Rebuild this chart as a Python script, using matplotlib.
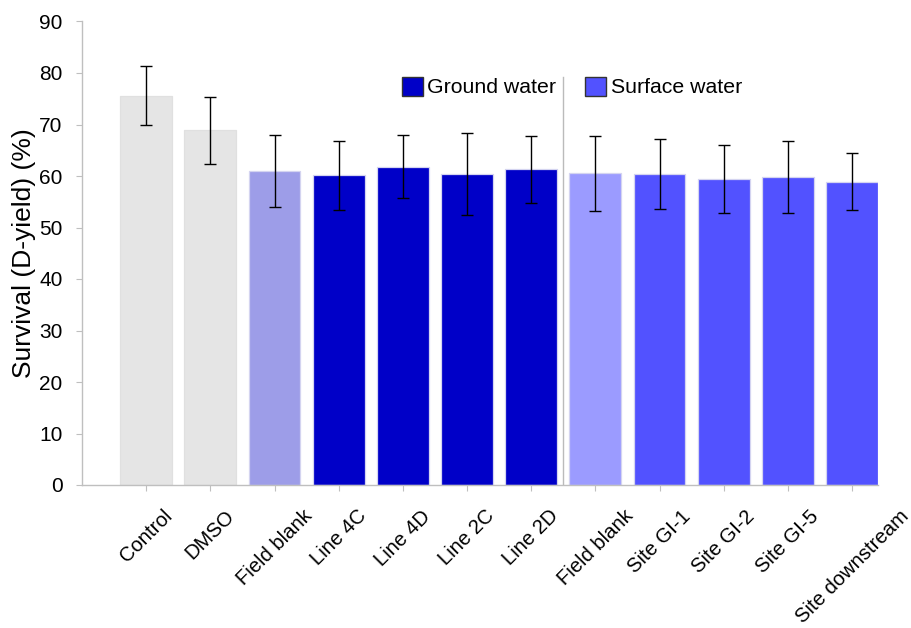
import matplotlib
matplotlib.use("Agg")
import matplotlib.pyplot as plt
from matplotlib.patches import Patch

plt.rcParams['font.family'] = ['Liberation Sans', 'DejaVu Sans']

categories = ["Control", "DMSO", "Field blank", "Line 4C", "Line 4D", "Line 2C", "Line 2D",
              "Field blank", "Site GI-1", "Site GI-2", "Site GI-5", "Site downstream"]
survival = [75.6, 68.9, 61.0, 60.1, 61.8, 60.4, 61.3, 60.55, 60.3, 59.5, 59.8, 58.9]
error = [5.7, 6.5, 7.05, 6.7, 6.1, 7.9, 6.45, 7.25, 6.8, 6.6, 7.0, 5.5]
groups = ["ctrl", "ctrl", "gw_blank", "gw", "gw", "gw", "gw",
          "sw_blank", "sw", "sw", "sw", "sw"]
group_colors = {"ctrl": "#E5E5E5", "gw_blank": "#9D9DE8", "gw": "#0000C8",
                "sw_blank": "#9B9BFF", "sw": "#5252FF"}
legend_labels = ["Ground water", "Surface water"]
legend_groups = ["gw", "sw"]
separator_pos = 6.5
separator_top = 79.3
yticks = list(range(0, 91, 10))

fig = plt.figure(figsize=(9.12, 6.28), dpi=100)
ax = fig.add_axes([82/912, 143/628, 796/912, 463.5/628])

x = list(range(len(categories)))
colors = [group_colors[g] for g in groups]
edges = ["#E0E0E0" if g == "ctrl" else "#D4D4F0" for g in groups]
ax.bar(x, survival, width=0.81, color=colors, edgecolor=edges, linewidth=0.9, zorder=2)
ax.errorbar(x, survival, yerr=error, fmt='none', ecolor='black', elinewidth=1.0,
            capsize=4.5, capthick=1.0, zorder=3)

ax.axvline(separator_pos, ymin=0, ymax=separator_top/90, color='#BBBBBB', linewidth=1.0, zorder=1)

ax.set_xlim(-1, 11.405)
ax.set_ylim(0, 90)
ax.set_yticks(yticks)
ax.set_xticks(x)
ax.set_xticklabels(categories, rotation=45, ha='center', va='top', fontsize=14.6)
ax.tick_params(axis='x', length=4, width=0.8, color='#BFBFBF', pad=11.5)
ax.tick_params(axis='y', length=4, width=0.8, color='#BFBFBF', pad=10, labelsize=15)

for s in ['top', 'right']:
    ax.spines[s].set_visible(False)
for s in ['left', 'bottom']:
    ax.spines[s].set_color('#BFBFBF')
    ax.spines[s].set_linewidth(1.0)

ax.set_ylabel("Survival (D-yield) (%)", fontsize=19)
ax.yaxis.set_label_coords(-0.058, 0.5)

handles = [Patch(facecolor=group_colors[g], edgecolor='#333333', linewidth=1.0) for g in legend_groups]
fig.legend(handles, legend_labels, ncol=2, loc='center left',
           bbox_to_anchor=(402/912, 1 - 87/628), frameon=False, fontsize=15.3,
           handlelength=1.0, handleheight=1.0, handletextpad=0.2,
           columnspacing=1.35, borderpad=0, borderaxespad=0)

fig.savefig("out.png", dpi=100)
